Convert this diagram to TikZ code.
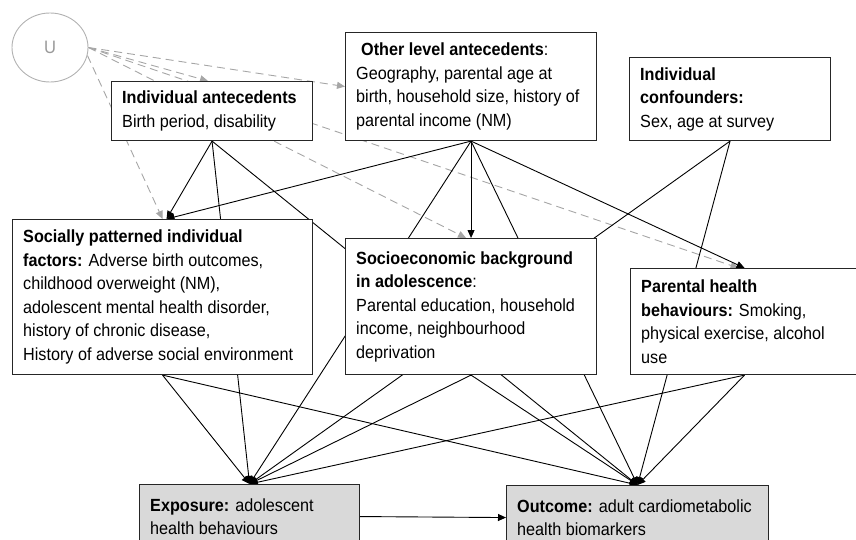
\documentclass[tikz,border=0pt]{standalone}
\usepackage{fontspec}
\setmainfont{Liberation Sans}[FakeStretch=0.92]
\usetikzlibrary{arrows.meta,shapes.geometric}
\pgfdeclarelayer{bg}
\pgfsetlayers{bg,main}
\begin{document}
\begin{tikzpicture}[x=1pt,y=-1pt,
  box/.style={draw=black!85, line width=1.1pt, fill=white, anchor=north west, inner sep=0pt},
  gbox/.style={box, fill=black!15},
  txt/.style={anchor=west, align=left, inner sep=0pt, font=\fontsize{17.6}{23.5}\selectfont},
  arr/.style={draw=black, line width=0.9pt, -{Triangle[length=8pt,width=7pt]}},
  darr/.style={draw=black!35, line width=0.9pt, dash pattern=on 8pt off 5pt, -{Triangle[length=8pt,width=7pt,fill=black!35]}}
]
\useasboundingbox (0,0) rectangle (856,540);

% U
\node[ellipse, draw=black!30, line width=0.9pt, minimum width=76pt, minimum height=69pt, inner sep=0pt, text=black!40, font=\fontsize{18}{20}\selectfont] (U) at (50,47.5) {U};

% boxes
\node[box, minimum width=201pt, minimum height=59pt] (ia) at (111,81) {};
\node[txt] (iat) at ([xshift=11pt]ia.west) {\textbf{Individual antecedents}\\Birth period, disability};

\node[box, minimum width=251pt, minimum height=108pt] (ol) at (345,32) {};
\node[txt] (olt) at ([xshift=11pt]ol.west) {\hspace{5pt}\textbf{Other level antecedents}:\\Geography, parental age at\\birth, household size, history of\\parental income (NM)};

\node[box, minimum width=201pt, minimum height=83pt] (ic) at (629,57) {};
\node[txt] (ict) at ([xshift=11pt]ic.west) {\textbf{Individual}\\\textbf{confounders:}\\Sex, age at survey};

\node[box, minimum width=300pt, minimum height=155pt] (sp) at (12,219) {};
\node[txt] (spt) at ([xshift=11pt]sp.west) {\textbf{Socially patterned individual}\\\textbf{factors:} Adverse birth outcomes,\\childhood overweight (NM),\\adolescent mental health disorder,\\history of chronic disease,\\History of adverse social environment};

\node[box, minimum width=251pt, minimum height=136pt] (se) at (345,238) {};
\node[txt] (set) at ([xshift=11pt]se.west) {\textbf{Socioeconomic background}\\\textbf{in adolescence}:\\Parental education, household\\income, neighbourhood\\deprivation};

\node[box, minimum width=228pt, minimum height=106pt] (ph) at (630,268) {};
\node[txt] (pht) at ([xshift=11pt]ph.west) {\textbf{Parental health}\\\textbf{behaviours:} Smoking,\\physical exercise, alcohol\\use};

\node[gbox, minimum width=220pt, minimum height=64pt] (ex) at (139,484) {};
\node[txt] (ext) at ([xshift=11pt]ex.west) {\textbf{Exposure:} adolescent\\health behaviours};

\node[gbox, minimum width=262pt, minimum height=64pt] (oc) at (506,485) {};
\node[txt] (oct) at ([xshift=11pt]oc.west) {\textbf{Outcome:} adult cardiometabolic\\health biomarkers};

\begin{pgfonlayer}{bg}
% dashed from U
\draw[darr] (U.east) -- (ol.west);
\draw[darr] (U.east) -- ([xshift=-4pt]ia.north);
\draw[darr] (U.east) -- ([xshift=-5pt]se.north);
\draw[darr] (U.east) -- ([xshift=-6pt]ph.north);
\draw[darr] (U.-12) -- ([xshift=0pt]sp.north);

% solid
\draw[arr] (ia.south) -- ([xshift=4pt]sp.north);
\draw[arr] (ia.south) -- (ex.north);
\draw[arr] (ia.south) -- (oc.north);
\draw[arr] (ol.south) -- ([xshift=4pt]sp.north);
\draw[arr] (ol.south) -- (se.north);
\draw[arr] (ol.south) -- (ph.north);
\draw[arr] (ol.south) -- (ex.north);
\draw[arr] (ol.south) -- (oc.north);
\draw[arr] (ic.south) -- (ex.north);
\draw[arr] (ic.south) -- (oc.north);
\draw[arr] (sp.south) -- (ex.north);
\draw[arr] (sp.south) -- (oc.north);
\draw[arr] (se.south) -- (ex.north);
\draw[arr] (se.south) -- (oc.north);
\draw[arr] (ph.south) -- (ex.north);
\draw[arr] (ph.south) -- (oc.north);
\end{pgfonlayer}
\draw[arr] (ex.east) -- (oc.west);
\end{tikzpicture}
\end{document}
